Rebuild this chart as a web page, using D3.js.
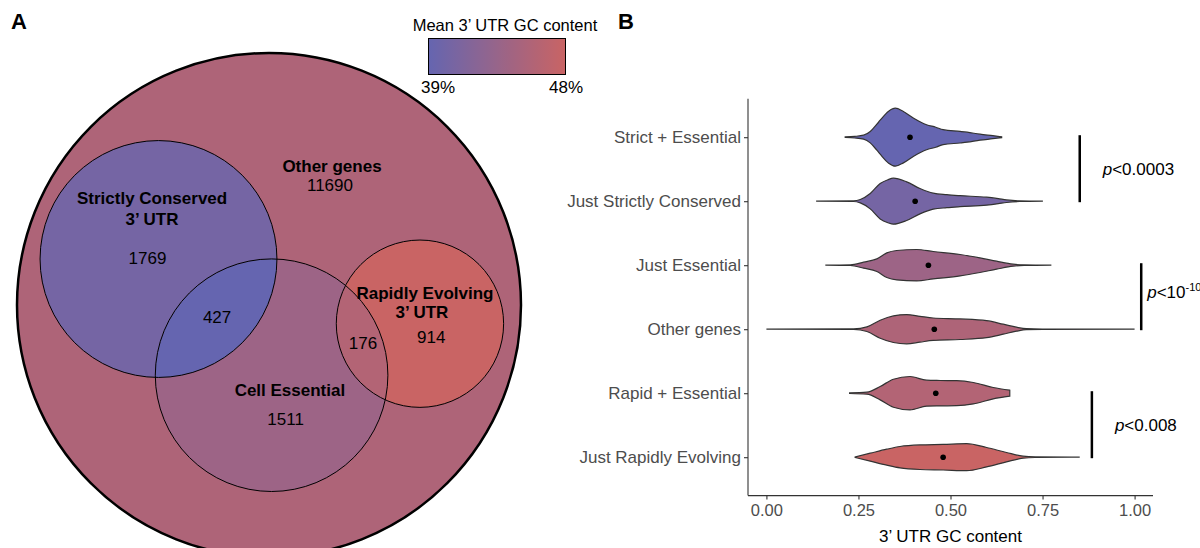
<!DOCTYPE html>
<html>
<head>
<meta charset="utf-8">
<script src="https://cdn.jsdelivr.net/npm/d3@7"></script>
<style>
    body { margin: 0; background: #fff; }
    svg text { font-family: "Liberation Sans", Arial, Helvetica, sans-serif; }
</style>
</head>
<body>
<div id="chart"></div>
<script>

// gene groups, top to bottom as in panel B
const groups = ["Strict + Essential", "Just Strictly Conserved", "Just Essential", "Other genes", "Rapid + Essential", "Just Rapidly Evolving"];
const geneCounts = [427, 1769, 1511, 11690, 176, 914];
const meanGC = [0.39, 0.404, 0.44, 0.456, 0.46, 0.48];
const gcTicks = [0, 0.25, 0.5, 0.75, 1];
const legendDomain = [0.39, 0.48];
const legendLabels = ["39%", "48%"];

// violin outlines: [GC content, density]
const densStrictEss = [[0.214,0.03],[0.24,0.08],[0.264,0.2],[0.282,0.57],[0.30,1.3],[0.309,1.7],[0.332,2.6],[0.35,2.9],[0.372,2.57],[0.40,1.9],[0.435,1.25],[0.46,1.0],[0.48,0.75],[0.526,0.58],[0.545,0.5],[0.58,0.3],[0.615,0.15],[0.639,0.04]];
const densJustStrict = [[0.135,0.0],[0.237,0.03],[0.255,0.17],[0.282,0.77],[0.309,1.77],[0.33,2.15],[0.345,2.3],[0.381,1.93],[0.417,1.27],[0.453,0.8],[0.49,0.65],[0.526,0.55],[0.598,0.4],[0.63,0.25],[0.652,0.13],[0.688,0.03],[0.751,0.0]];
const densJustEss = [[0.16,0.0],[0.228,0.03],[0.264,0.3],[0.30,0.63],[0.327,1.23],[0.354,1.47],[0.408,1.57],[0.453,1.37],[0.526,1.07],[0.58,0.73],[0.625,0.4],[0.67,0.1],[0.70,0.03],[0.774,0.0]];
const densOther = [[0.0,0.0],[0.237,0.03],[0.273,0.23],[0.309,0.9],[0.345,1.33],[0.381,1.46],[0.417,1.29],[0.453,1.12],[0.526,1.03],[0.598,0.85],[0.643,0.5],[0.679,0.2],[0.706,0.05],[0.75,0.02],[1.0,0.0]];
const densRapidEss = [[0.226,0.03],[0.273,0.1],[0.309,0.67],[0.345,1.4],[0.39,1.67],[0.435,1.3],[0.472,1.27],[0.517,1.25],[0.562,1.07],[0.616,0.57],[0.661,0.3]];
const densJustRapid = [[0.241,0.03],[0.282,0.4],[0.327,0.8],[0.363,1.07],[0.417,1.23],[0.48,1.28],[0.544,1.35],[0.598,0.97],[0.652,0.47],[0.697,0.1],[0.73,0.03],[0.851,0.0]];
const densities = [densStrictEss, densJustStrict, densJustEss, densOther, densRapidEss, densJustRapid];

// significance brackets between neighbouring groups
const brackets = [
    {from: "Strict + Essential", to: "Just Strictly Conserved", at: 0.851, p: "0.0003"},
    {from: "Just Essential", to: "Other genes", at: 1.018, p: "10", sup: "-10"},
    {from: "Rapid + Essential", to: "Just Rapidly Evolving", at: 0.884, p: "0.008"}
];

// Venn layout, in units of the outer circle radius
const vennCircles = [
    {name: "all", cx: 0, cy: 0, r: 1},
    {name: "strict", cx: -0.4385, cy: -0.1825, r: 0.470},
    {name: "essential", cx: 0.0103, cy: 0.2786, r: 0.4615},
    {name: "rapid", cx: 0.599, cy: 0.0742, r: 0.332}
];
const vennTitles = [
    {text: "Other genes", x: 0.25, y: -0.529},
    {text: "Strictly Conserved", x: -0.464, y: -0.401},
    {text: "3\u2019 UTR", x: -0.464, y: -0.318},
    {text: "Rapidly Evolving", x: 0.619, y: -0.024},
    {text: "3\u2019 UTR", x: 0.607, y: 0.052},
    {text: "Cell Essential", x: 0.083, y: 0.361}
];
// where each group count sits (same order as groups)
const countPos = [[-0.206, 0.071], [-0.482, -0.161], [0.066, 0.476], [0.242, -0.454], [0.373, 0.175], [0.644, 0.151]];

const W = 1200, H = 548;

const svg = d3.select("#chart").append("svg")
    .attr("width", W)
    .attr("height", H);

const color = d3.scaleLinear()
    .domain(legendDomain)
    .range(["#6565b0", "#c96464"])
    .clamp(true);

// panel letters
svg.append("text").attr("x", 11).attr("y", 29).attr("font-size", 22).attr("font-weight", "bold").text("A");
svg.append("text").attr("x", 618).attr("y", 29).attr("font-size", 22).attr("font-weight", "bold").text("B");

/* ---------- Panel A : Venn ---------- */

let vx = d3.scaleLinear().domain([-1, 1]).range([17, 521]);
let vy = d3.scaleLinear().domain([-1, 1]).range([53, 557]);
let vr = r => vx(r) - vx(0);

let defs = svg.append("defs");
let byName = {};
vennCircles.forEach(c => byName[c.name] = c);

["strict", "essential"].forEach(n => {
    let c = byName[n];
    defs.append("clipPath").attr("id", "clip-" + n)
        .append("circle")
        .attr("cx", vx(c.cx)).attr("cy", vy(c.cy)).attr("r", vr(c.r));
});

let venn = svg.append("g");

function fillCircle(name, gc, clip) {
    let c = byName[name];
    let el = venn.append("circle")
        .attr("cx", vx(c.cx))
        .attr("cy", vy(c.cy))
        .attr("r", vr(c.r))
        .attr("fill", color(gc));
    if (clip) el.attr("clip-path", "url(#clip-" + clip + ")");
}

fillCircle("all", meanGC[3]);
fillCircle("strict", meanGC[1]);
fillCircle("essential", meanGC[2]);
fillCircle("essential", meanGC[0], "strict");
fillCircle("rapid", meanGC[5]);
fillCircle("rapid", meanGC[4], "essential");

venn.selectAll(".vennOutline")
    .data(vennCircles)
    .enter()
    .append("circle")
    .attr("class", "vennOutline")
    .attr("cx", d => vx(d.cx))
    .attr("cy", d => vy(d.cy))
    .attr("r", d => vr(d.r))
    .attr("fill", "none")
    .attr("stroke", "#000")
    .attr("stroke-width", d => d.name === "all" ? 2.5 : 1);

venn.selectAll(".vennTitle")
    .data(vennTitles)
    .enter()
    .append("text")
    .attr("class", "vennTitle")
    .attr("x", d => vx(d.x))
    .attr("y", d => vy(d.y))
    .attr("text-anchor", "middle")
    .attr("font-size", 17)
    .attr("font-weight", "bold")
    .text(d => d.text);

venn.selectAll(".vennCount")
    .data(geneCounts)
    .enter()
    .append("text")
    .attr("class", "vennCount")
    .attr("x", (d, i) => vx(countPos[i][0]))
    .attr("y", (d, i) => vy(countPos[i][1]))
    .attr("text-anchor", "middle")
    .attr("font-size", 17)
    .text(d => d);

// colour legend
let grad = defs.append("linearGradient").attr("id", "gcGrad");
d3.range(0, 1.001, 0.1).forEach(t => {
    grad.append("stop")
        .attr("offset", t)
        .attr("stop-color", color(legendDomain[0] + t * (legendDomain[1] - legendDomain[0])));
});

let legend = svg.append("g");
legend.append("text")
    .attr("x", 505).attr("y", 31)
    .attr("text-anchor", "middle")
    .attr("font-size", 16.5)
    .text("Mean 3\u2019 UTR GC content");
legend.append("rect")
    .attr("x", 428.5).attr("y", 38.5)
    .attr("width", 137).attr("height", 36)
    .attr("fill", "url(#gcGrad)")
    .attr("stroke", "#000")
    .attr("stroke-width", 1);
legend.selectAll(".legLabel")
    .data(legendLabels)
    .enter()
    .append("text")
    .attr("class", "legLabel")
    .attr("x", (d, i) => i === 0 ? 438 : 566)
    .attr("y", 93)
    .attr("text-anchor", "middle")
    .attr("font-size", 17)
    .text(d => d);

/* ---------- Panel B : violins ---------- */

let yTop = 98.8, yBottom = 495.6;
let x = d3.scaleLinear().domain([-0.05, 1.05]).range([748, 1153]);
let y = d3.scalePoint().domain(groups).range([yTop, yBottom]).padding(0.6);
let w = d3.scaleLinear().domain([0, 1]).range([0, 10]);

let plot = svg.append("g");

// axes
let xAxis = plot.append("g")
    .attr("transform", `translate(0,${yBottom})`)
    .call(d3.axisBottom(x).tickValues(gcTicks).tickFormat(d3.format(".2f")).tickSize(4).tickPadding(5));
let yAxis = plot.append("g")
    .attr("transform", "translate(748,0)")
    .call(d3.axisLeft(y).tickSize(4).tickPadding(3));

[xAxis, yAxis].forEach(a => {
    a.select(".domain").attr("stroke", "#333").attr("stroke-width", 1.1);
    a.selectAll(".tick line").attr("stroke", "#333").attr("stroke-width", 1.1);
    a.selectAll(".tick text")
        .attr("fill", "#4d4d4d")
        .attr("font-family", "Liberation Sans, Arial, sans-serif");
});
xAxis.selectAll(".tick text").attr("font-size", 16.5);
yAxis.selectAll(".tick text").attr("font-size", 17);
yAxis.select(".domain").attr("d", `M0,${yTop}V${yBottom}`);
xAxis.select(".domain").attr("d", `M${x.range()[0]},0H${x.range()[1]}`);

plot.append("text")
    .attr("x", (x(0) + x(1)) / 2)
    .attr("y", 542)
    .attr("text-anchor", "middle")
    .attr("font-size", 17)
    .text("3\u2019 UTR GC content");

groups.forEach((g, i) => {
    let cy = y(g);
    let area = d3.area()
        .x(d => x(d[0]))
        .y0(d => cy - w(d[1]))
        .y1(d => cy + w(d[1]))
        .curve(d3.curveMonotoneX);

    plot.append("path")
        .datum(densities[i])
        .attr("d", area)
        .attr("fill", color(meanGC[i]))
        .attr("stroke", "#333")
        .attr("stroke-width", 1.2);

    plot.append("circle")
        .attr("cx", x(meanGC[i]))
        .attr("cy", cy)
        .attr("r", 2.8)
        .attr("fill", "#000");
});

// p-value brackets
brackets.forEach(b => {
    let y1 = y(b.from) - 2, y2 = y(b.to) + 1;
    plot.append("line")
        .attr("x1", x(b.at)).attr("x2", x(b.at))
        .attr("y1", y1).attr("y2", y2)
        .attr("stroke", "#000")
        .attr("stroke-width", 2.5);

    let t = plot.append("text")
        .attr("x", x(b.at) + (b.sup ? 6 : 23))
        .attr("y", b.sup ? y1 + 35 : (y1 + y2) / 2 + 6)
        .attr("font-size", 17);
    t.append("tspan").attr("font-style", "italic").text("p");
    t.append("tspan").text("<" + b.p);
    if (b.sup) {
        t.append("tspan").attr("font-size", 11).attr("dy", -7).text(b.sup);
    }
});

</script>
</body>
</html>
